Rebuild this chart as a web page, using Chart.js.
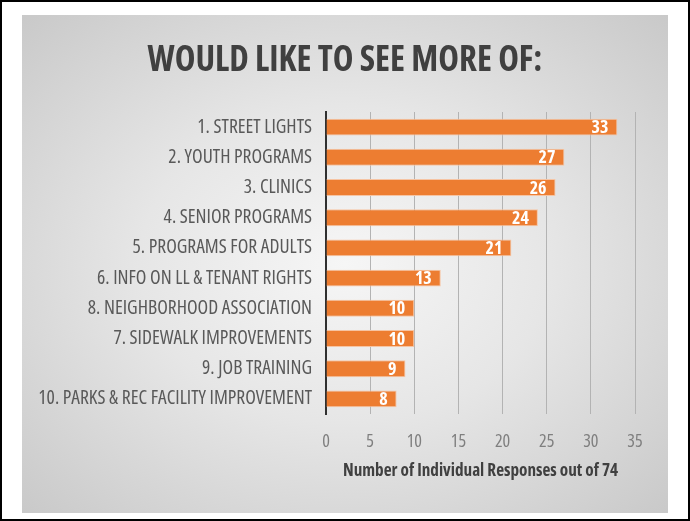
<!DOCTYPE html>
<html>
<head>
<meta charset="utf-8">
<script src="https://cdn.jsdelivr.net/npm/chart.js@4/dist/chart.umd.min.js"></script>
<style>
  html, body { margin: 0; padding: 0; background: #fff; }
  #frame {
    position: absolute; left: 0; top: 0;
    width: 686px; height: 517px;
    border: 2px solid #000; background: #fff;
  }
  #panel {
    position: absolute; left: 20px; top: 13px;
    width: 646px; height: 498px;
    background: radial-gradient(ellipse at 50% 50%, #f6f6f6 0%, #e6e6e6 45%, #c9c9c9 100%);
  }
</style>
</head>
<body>
<div id="frame">
  <div id="panel"><canvas id="chart"></canvas></div>
</div>
<script>
var categories = [
    "1. STREET LIGHTS",
    "2. YOUTH PROGRAMS",
    "3. CLINICS",
    "4. SENIOR PROGRAMS",
    "5. PROGRAMS FOR ADULTS",
    "6. INFO ON LL & TENANT RIGHTS",
    "8. NEIGHBORHOOD ASSOCIATION",
    "7. SIDEWALK IMPROVEMENTS",
    "9. JOB TRAINING",
    "10. PARKS & REC FACILITY IMPROVEMENT"
];
var responses = [33, 27, 26, 24, 21, 13, 10, 10, 9, 8];
var axisMax = 35;
var axisStep = 5;
var chartTitle = "WOULD LIKE TO SEE MORE OF:";
var axisTitle = "Number of Individual Responses out of 74";

// Open Sans has a width axis, "condensed" gets it close to the Calibri look
var family = "'Open Sans', sans-serif";

// white value labels just inside the end of each bar
var barLabels = {
    id: "barLabels",
    afterLayout: function(chart) {
        // center the title over the whole panel, not just left of the right padding
        var t = chart.titleBlock;
        if (t) t.left = chart.width - t.right;
    },
    afterDatasetsDraw: function(chart) {
        var ctx = chart.ctx;
        var meta = chart.getDatasetMeta(0);
        ctx.save();
        ctx.font = "bold condensed 18px " + family;
        ctx.fillStyle = "#ffffff";
        ctx.textAlign = "right";
        ctx.textBaseline = "middle";
        for (var i = 0; i < meta.data.length; i++) {
            var bar = meta.data[i];
            ctx.fillText(String(responses[i]), bar.x - 9, bar.y + 1);
        }
        ctx.restore();
    }
};

var ctx = document.getElementById("chart");
var chart = new Chart(ctx, {
    type: "bar",
    data: {
        labels: categories,
        datasets: [{
            data: responses,
            backgroundColor: "#ed7d31",
            borderColor: "#f6c4a3",
            borderWidth: 1,
            borderSkipped: "start",
            categoryPercentage: 0.8,
            barPercentage: 0.7
        }]
    },
    options: {
        indexAxis: "y",
        responsive: true,
        maintainAspectRatio: false,
        animation: false,
        layout: { padding: { left: 0, right: 33, top: 0, bottom: 0 } },
        plugins: {
            legend: { display: false },
            tooltip: { enabled: false },
            title: {
                display: true,
                text: chartTitle,
                color: "#404040",
                font: { family: family, size: 35, weight: "bold condensed" },
                padding: { top: 25, bottom: 30 }
            }
        },
        scales: {
            x: {
                min: 0,
                max: axisMax,
                ticks: {
                    stepSize: axisStep,
                    color: "#7f7f7f",
                    padding: 17,
                    font: { family: family, size: 18, weight: "condensed" }
                },
                grid: { color: "#b3b3b3", lineWidth: 1, drawTicks: false },
                border: { display: false },
                title: {
                    display: true,
                    text: axisTitle,
                    color: "#404040",
                    font: { family: family, size: 17.2, weight: "bold condensed" },
                    padding: { top: 4, bottom: 32 }
                },
                afterFit: function(s) { s.height = 99; }
            },
            y: {
                ticks: {
                    color: "#595959",
                    padding: 14,
                    font: { family: family, size: 19.5, weight: "condensed" }
                },
                grid: { display: false, drawTicks: false },
                border: { display: true, color: "#303030", width: 2 },
                afterFit: function(s) { s.width = 304; }
            }
        }
    },
    plugins: [barLabels]
});
</script>
</body>
</html>
